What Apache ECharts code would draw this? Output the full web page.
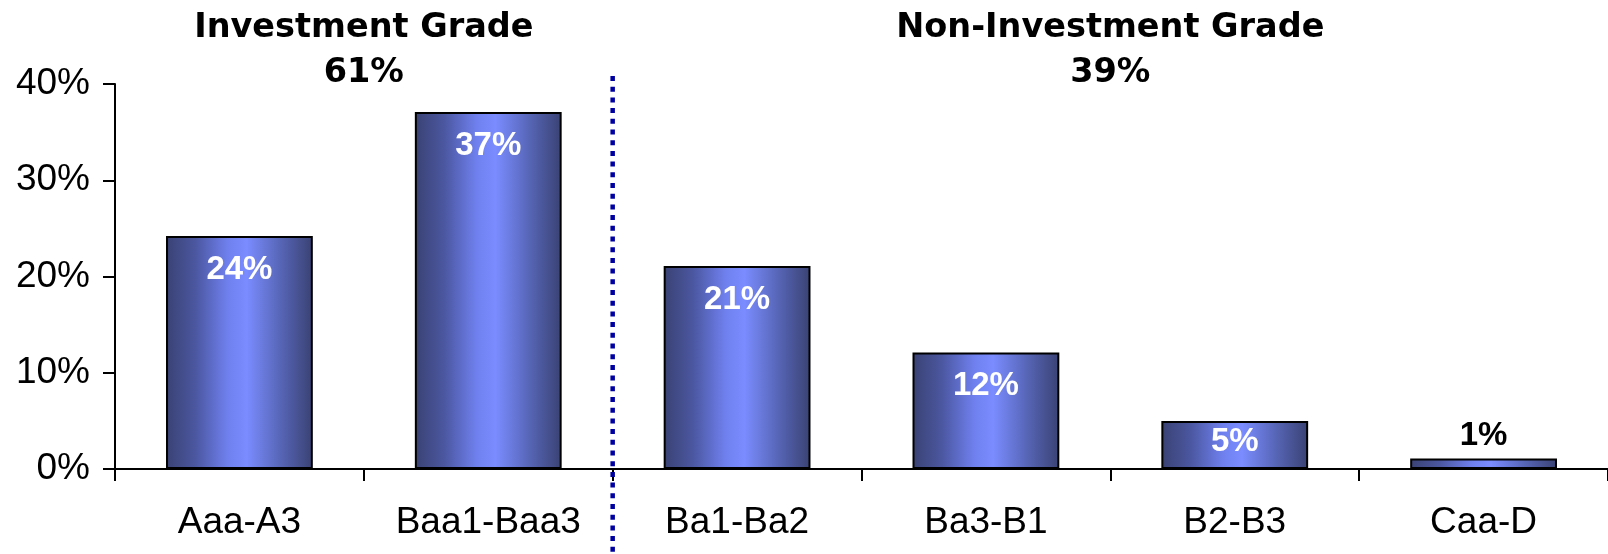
<!DOCTYPE html>
<html>
<head>
<meta charset="utf-8">
<script src="https://cdn.jsdelivr.net/npm/echarts@6/dist/echarts.min.js"></script>
<style>
html,body{margin:0;padding:0;background:#fff;}
#chart{width:1608px;height:554px;}
</style>
</head>
<body>
<div id="chart"></div>
<script>
const categories = ['Aaa-A3', 'Baa1-Baa3', 'Ba1-Ba2', 'Ba3-B1', 'B2-B3', 'Caa-D'];
const shares = [24.2, 37.1, 21.1, 12.1, 5.0, 1.1];
const yMin = 0, yMax = 40, yStep = 10;
const groupTitles = ['Investment Grade', 'Non-Investment Grade'];
const groupShares = ['61%', '39%'];
const groupFirst = [0, 2];
const groupLast = [1, 5];
const outsideLabelIndex = 5;
const shortLabelIndex = 4;

const chart = echarts.init(document.getElementById('chart'), null, {renderer: 'canvas'});
const barGrad = new echarts.graphic.LinearGradient(0, 0, 1, 0, [
  {offset: 0, color: '#3a4273'},
  {offset: 0.2, color: '#4b57a0'},
  {offset: 0.42, color: '#6f80ee'},
  {offset: 0.55, color: '#7a8cff'},
  {offset: 0.8, color: '#5462b0'},
  {offset: 1, color: '#3a4273'}
]);

const data = shares.map((v, i) => {
  const d = {value: v};
  if (i === outsideLabelIndex) {
    d.label = {position: 'top', color: '#000', distance: 6};
  } else if (i === shortLabelIndex) {
    d.label = {distance: 5};
  }
  return d;
});

chart.setOption({
  animation: false,
  backgroundColor: '#fff',
  grid: {left: 115, right: -7, top: 84, bottom: 85, containLabel: false},
  xAxis: {
    type: 'category',
    data: categories,
    boundaryGap: true,
    axisLine: {lineStyle: {color: '#000', width: 2}},
    axisTick: {show: true, length: 12, lineStyle: {color: '#000', width: 2}},
    axisLabel: {color: '#000', fontFamily: 'Liberation Sans', fontSize: 37, margin: 35}
  },
  yAxis: {
    type: 'value',
    min: yMin, max: yMax, interval: yStep,
    splitLine: {show: false},
    axisLine: {show: true, lineStyle: {color: '#000', width: 2}},
    axisTick: {show: true, length: 12, lineStyle: {color: '#000', width: 2}},
    axisLabel: {color: '#000', fontFamily: 'Liberation Sans', fontSize: 37, margin: 25, formatter: '{value}%'}
  },
  series: [{
    type: 'bar',
    data: data,
    barWidth: '59%',
    itemStyle: {color: barGrad, borderColor: '#000', borderWidth: 2},
    label: {
      show: true,
      position: 'insideTop',
      distance: 17,
      color: '#fff',
      fontFamily: 'Liberation Sans',
      fontWeight: 'bold',
      fontSize: 33,
      formatter: p => Math.round(p.value) + '%'
    }
  }]
});

function px(cat) { return chart.convertToPixel({xAxisIndex: 0}, cat); }
const bandHalf = (px(categories[1]) - px(categories[0])) / 2;
const yTop = chart.convertToPixel({yAxisIndex: 0}, yMax);
const elements = [];
const sepX = (px(categories[1]) + px(categories[2])) / 2;
elements.push({
  type: 'line',
  shape: {x1: sepX, y1: yTop - 8, x2: sepX, y2: 554},
  style: {stroke: '#0000a0', lineWidth: 4.5, lineDash: [5, 5.7]},
  z: 10
});
groupTitles.forEach((t, i) => {
  const cx = (px(categories[groupFirst[i]]) - bandHalf + px(categories[groupLast[i]]) + bandHalf) / 2;
  elements.push({
    type: 'text',
    x: cx, y: 51,
    style: {text: t + '\n' + groupShares[i], fill: '#000', font: 'bold 33.5px "DejaVu Sans"', textAlign: 'center', textVerticalAlign: 'middle', lineHeight: 45},
    z: 10
  });
});
chart.setOption({graphic: elements});
</script>
</body>
</html>
